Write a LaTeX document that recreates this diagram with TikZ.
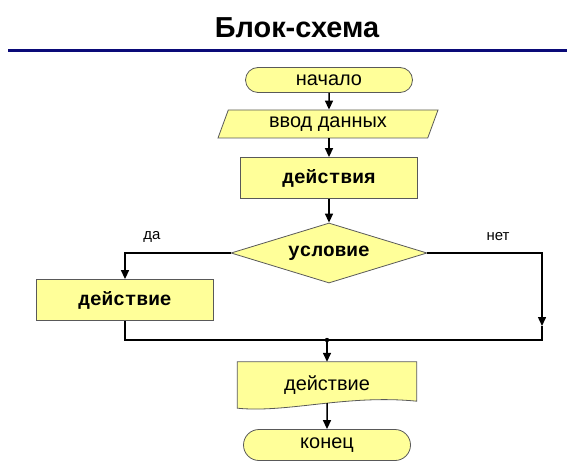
\documentclass[tikz,border=0pt]{standalone}
\usepackage{fontspec}
\setmainfont{Liberation Sans}
\newfontfamily\codefont{Liberation Mono}
\usetikzlibrary{shapes.geometric,shapes.misc,arrows.meta,backgrounds}
\definecolor{boxyellow}{RGB}{255,255,153}
\definecolor{titleblue}{RGB}{10,10,120}
\begin{document}
\begin{tikzpicture}[x=1bp, y=-1bp,
        base/.style={draw=gray!70!black, line width=0.8bp, fill=boxyellow, inner sep=0pt, font=\fontsize{20}{23}\selectfont},
        terminal/.style={base, rounded rectangle, minimum width=167bp, minimum height=25bp},
        inout/.style={base, trapezium, trapezium left angle=55, trapezium right angle=125, trapezium stretches body, minimum width=220bp, minimum height=28bp},
        process/.style={base, rectangle, minimum width=177bp, minimum height=41bp, font=\codefont\bfseries\fontsize{19.5}{22}\selectfont},
        decision/.style={base, diamond, aspect=3.3, minimum width=196bp, minimum height=60bp, font=\codefont\bfseries\fontsize{19.5}{22}\selectfont},
        docnode/.style={rectangle, inner sep=0pt, minimum width=179bp, minimum height=46bp, font=\fontsize{20}{23}\selectfont},
        flow/.style={line width=1.5bp, -{Triangle[length=9bp,width=8bp]}},
        link/.style={line width=1.5bp},
        branch/.style={font=\fontsize{15}{18}\selectfont}
    ]
    \useasboundingbox (0,0) rectangle (567,469);
    % --- Заголовок ---
    \node[font=\bfseries\fontsize{29}{33}\selectfont] (title) at (297,28) {Блок-схема};
    \draw[titleblue, line width=3bp] (8,51) -- (567,51);
    % --- Основная ветвь ---
    \node[terminal] (start) at (329,80) {начало};
    \node[inout] (input) at (328,124) {ввод данных};
    \node[process] (act) at (329,178) {действия};
    \node[decision] (cond) at (329,253) {условие};
    \draw[flow] (start) -- (start |- input.north);
    \draw[flow] (start |- input.south) -- (act);
    \draw[flow] (act) -- (cond);
    % --- Ветви условия ---
    \node[process] (yesact) at (125,300) {действие};
    \node[branch] (yes) at (152,237) {да};
    \node[branch] (no) at (498,237) {нет};
    \coordinate (noend) at (542,326);
    \coordinate (join) at (327,340);
    \draw[flow] (cond.west) -| (yesact.north);
    \draw[flow] (cond.east) -| (noend);
    \draw[link] (noend) |- (join);
    \draw[link] (yesact.south) |- (join);
    \fill (join) circle (2.2bp);
    % --- Завершение ---
    \node[docnode] (doc) at (327,385) {действие};
    \begin{scope}[on background layer]
        \draw[base] (doc.north west) -- (doc.north east) -- ([yshift=7bp]doc.south east)
            .. controls ([xshift=-70bp,yshift=14bp]doc.south east) and ([xshift=50bp,yshift=-5bp]doc.south west) .. (doc.south west) -- cycle;
    \end{scope}
    \node[terminal, minimum height=31bp] (stop) at (327,445) {конец};
    \draw[flow] (join) -- (doc);
    \draw[flow] ([yshift=5bp]doc.south) -- (stop);
\end{tikzpicture}
\end{document}
